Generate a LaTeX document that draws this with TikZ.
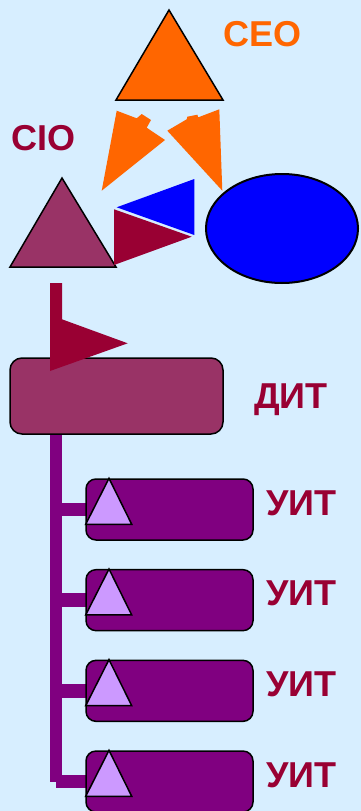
\documentclass[tikz,border=0pt]{standalone}
\usepackage{fontspec}
\setmainfont{Liberation Sans}
\definecolor{bgblue}{HTML}{D7EEFF}
\definecolor{ceoorange}{HTML}{FF6600}
\definecolor{wine}{HTML}{990033}
\definecolor{mauve}{HTML}{993366}
\definecolor{plum}{HTML}{800080}
\definecolor{lilac}{HTML}{CC99FF}
\definecolor{pureblue}{HTML}{0000FF}
\begin{document}
\begin{tikzpicture}[x=1pt,y=-1pt,
  lbl/.style={font=\fontsize{36}{40}\selectfont\bfseries, anchor=base, inner sep=0pt},
  outline/.style={draw=black, line width=1.5pt, line join=miter},
  unitbox/.style={outline, fill=plum, rounded corners=10pt, minimum width=167pt, minimum height=61pt, inner sep=0pt},
  trunk/.style={plum, line width=12.5pt},
  branch/.style={plum, line width=13.5pt}]
% background
\fill[bgblue] (0,0) rectangle (361,811);
\useasboundingbox (0,0) rectangle (361,811);

% CEO
\draw[outline, fill=ceoorange] (169,10) -- (223,100) -- (116,100) -- cycle;
\node[lbl, text=ceoorange] (ceo) at (262.5,46) {CEO};

% orange arrows from CEO down to CIO and to the ellipse
\fill[ceoorange] (101.7,190.7) -- (116.7,110.7) -- (136.7,118.3) -- (141.7,114)
  -- (151,120) -- (146.7,127.7) -- (165,140) -- cycle;
\fill[ceoorange] (222.3,190.7) -- (167.3,130.7) -- (186.7,119.3) -- (187.3,116.7)
  -- (197.3,114.7) -- (198.3,117.3) -- (219.3,109.3) -- cycle;

% CIO
\draw[outline, fill=mauve] (62,178) -- (116,267) -- (10,267) -- cycle;
\node[lbl, text=wine] (cio) at (43.5,150) {CIO};

% blue and wine pointers, ellipse
\fill[pureblue] (116.7,207.3) -- (194.3,179) -- (194.3,235) -- cycle;
\fill[wine] (114,209.3) -- (191.7,236.7) -- (114,265) -- cycle;
\draw[fill=pureblue, line width=2pt] (282,228.5) ellipse [x radius=76, y radius=54.5];

% trunk line of the units
\coordinate (ttop) at (56,434);
\coordinate (tbot) at (56,782);
\draw[trunk] (ttop) -- (tbot);

% ДИТ
\node[outline, fill=mauve, rounded corners=12pt, minimum width=213pt, minimum height=76pt, inner sep=0pt] (dit) at (116.5,396) {};
\node[lbl, text=wine] (ditlbl) at (291,408) {ДИТ};

% flag above ДИТ
\fill[wine] (50,283) -- (62,283) -- (62,319.3) -- (127.7,343.3) -- (50,371) -- cycle;

% УИТ units
\foreach \i in {1,...,4}{
  \pgfmathsetmacro{\top}{479+90.67*(\i-1)}
  \draw[branch] (ttop |- 0,\top+30.5) -- (87,\top+30.5);
  \node[unitbox] (uit\i) at (169.5,\top+30.5) {};
  \draw[outline, fill=lilac] (109,\top-0.7) -- (131.7,\top+45.3) -- (85.7,\top+45.3) -- cycle;
  \node[lbl, text=wine] (uitlbl\i) at (301.5,\top+36) {УИТ};
}
\end{tikzpicture}
\end{document}
